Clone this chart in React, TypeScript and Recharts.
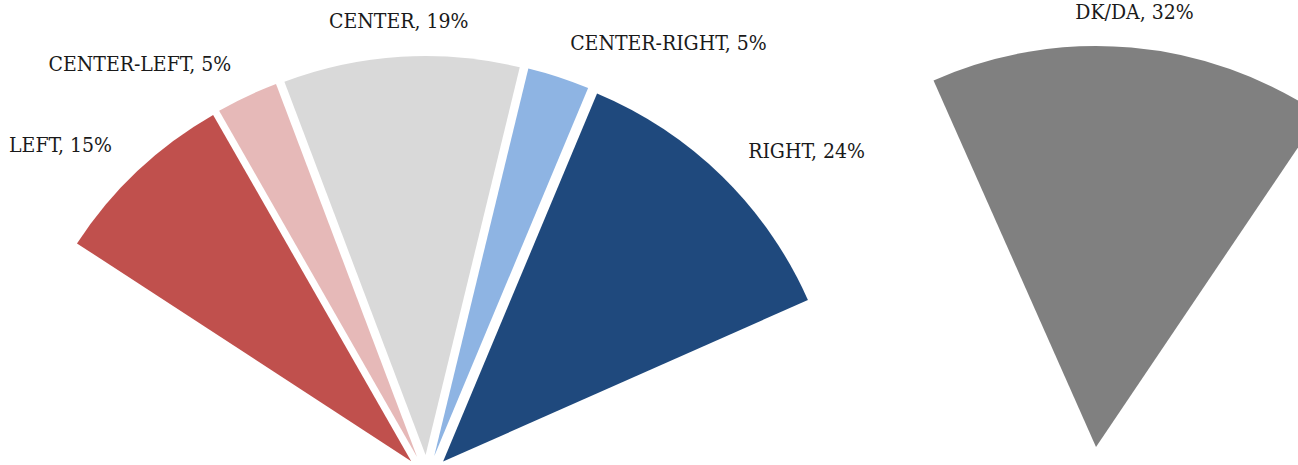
import { PieChart, Pie, Cell } from 'recharts';

// ── Data ───────────────────────────────────────────────────────────────────

const GROUPS = ['LEFT', 'CENTER-LEFT', 'CENTER', 'CENTER-RIGHT', 'RIGHT'];
const GROUP_SHARE = [15, 5, 19, 5, 24];
const GROUP_COLORS = ['#C0504D', '#E6B9B8', '#D9D9D9', '#8EB4E3', '#1F497D'];

const OTHER = ['DK/DA'];
const OTHER_SHARE = [32];
const OTHER_COLORS = ['#808080'];

// ── Layout ─────────────────────────────────────────────────────────────────

// half-pie: 100% spans roughly 180deg
const DEG_PER_PCT = 1.809;
const RADIAN = Math.PI / 180;

const FAN_CX = 427;
const FAN_CY = 478;
const FAN_START = 146.9;
const FAN_R = 399;
const EXPLODE = 23; // every slice pulled out along its bisector

const OTHER_CX = 1096;
const OTHER_CY = 447;
const OTHER_START = 113.9;
const OTHER_R = 401;

const FONT = "'DejaVu Serif Condensed', 'DejaVu Serif', serif";

// angles for each fan slice, walked clockwise from FAN_START
let acc = 0;
const fanSlices = GROUPS.map((name, i) => {
  const start = FAN_START - acc * DEG_PER_PCT;
  acc += GROUP_SHARE[i];
  const end = FAN_START - acc * DEG_PER_PCT;
  const mid = (start + end) / 2;
  return {
    name,
    value: GROUP_SHARE[i],
    color: GROUP_COLORS[i],
    start,
    end,
    cx: FAN_CX + EXPLODE * Math.cos(mid * RADIAN),
    cy: FAN_CY - EXPLODE * Math.sin(mid * RADIAN),
  };
});

const otherData = OTHER.map((name, i) => ({ name, value: OTHER_SHARE[i] }));

// ── Outside label, anchored on the slice bisector ─────────────────────────

function SliceLabel({ cx, cy, midAngle, outerRadius, name, value }: any) {
  const r = outerRadius + 37;
  const cos = Math.cos(-midAngle * RADIAN);
  const x = cx + r * cos;
  const y = cy + r * Math.sin(-midAngle * RADIAN);
  const anchor = cos < -0.2 ? 'end' : cos > 0.2 ? 'start' : 'middle';
  return (
    <text
      x={x}
      y={y}
      dy={1}
      fill="#1A1A1A"
      textAnchor={anchor}
      dominantBaseline="central"
      fontFamily={FONT}
      fontSize={21}
    >
      {`${name}, ${value}%`}
    </text>
  );
}

export default function App() {
  return (
    <div style={{ position: 'absolute', left: 0, top: 0, width: 1298, height: 465, background: '#fff' }}>
      <PieChart width={1298} height={465} margin={{ top: 0, right: 0, bottom: 0, left: 0 }}>
        {fanSlices.map((s) => (
          <Pie
            key={s.name}
            data={[{ name: s.name, value: s.value }]}
            dataKey="value"
            cx={s.cx}
            cy={s.cy}
            innerRadius={0}
            outerRadius={FAN_R}
            startAngle={s.start}
            endAngle={s.end}
            labelLine={false}
            label={SliceLabel}
            isAnimationActive={false}
          >
            <Cell fill={s.color} stroke="none" />
          </Pie>
        ))}
        <Pie
          data={otherData}
          dataKey="value"
          cx={OTHER_CX}
          cy={OTHER_CY}
          innerRadius={0}
          outerRadius={OTHER_R}
          startAngle={OTHER_START}
          endAngle={OTHER_START - OTHER_SHARE.reduce((a, b) => a + b, 0) * DEG_PER_PCT}
          labelLine={false}
          label={SliceLabel}
          isAnimationActive={false}
        >
          {otherData.map((d, i) => (
            <Cell key={d.name} fill={OTHER_COLORS[i]} stroke="none" />
          ))}
        </Pie>
      </PieChart>
    </div>
  );
}
